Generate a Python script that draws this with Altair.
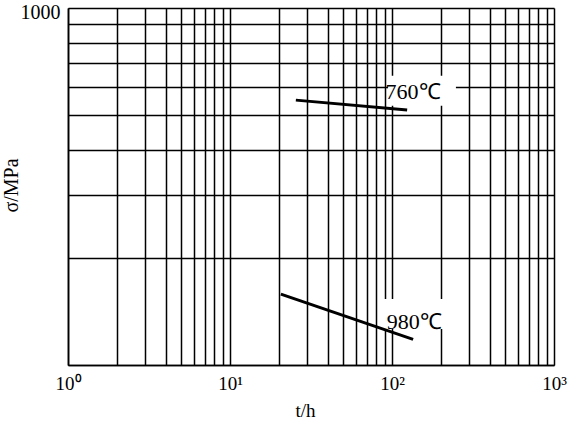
import altair as alt
import pandas as pd

# Data
t760 = [25.5, 124]
s760 = [552, 518]
t980 = [20.6, 135]
s980 = [158, 118]
label_t = [135, 137]
label_s = [582, 132]
label_txt = ["760℃", "980℃"]
box_t = [153, 141]
box_s = [586, 139]

x_grid = [1, 2, 3, 4, 5, 6, 7, 8, 9, 10, 20, 30, 40, 50, 60, 70, 80, 90,
          100, 200, 300, 400, 500, 600, 700, 800, 900, 1000]
y_grid = [100, 200, 300, 400, 500, 600, 700, 800, 900, 1000]

lines = pd.DataFrame({
    "t": t760 + t980,
    "s": s760 + s980,
    "series": ["760", "760", "980", "980"],
})
labels = pd.DataFrame({"t": label_t, "s": label_s, "txt": label_txt,
                       "bt": box_t, "bs": box_s})

FONT = "Liberation Serif"

xscale = alt.Scale(type="log", domain=[1, 1000], nice=False)
yscale = alt.Scale(type="log", domain=[100, 1000], nice=False)

xaxis = alt.Axis(
    values=x_grid, grid=True, ticks=False, gridColor="black", gridWidth=1.5,
    gridOpacity=1, domainColor="black", domainWidth=1.6,
    labelExpr="datum.value==1?'10⁰':datum.value==10?'10¹':datum.value==100?'10²':datum.value==1000?'10³':''",
    labelFont=FONT, labelFontSize=19, labelColor="black", labelPadding=9,
    labelFlush=False, labelOverlap=False,
    title="t/h", titleFont=FONT, titleFontSize=19, titleFontWeight="normal",
    titleColor="black", titleX=237, titleY=45, titleBaseline="middle",
    titleAlign="center",
)
yaxis = alt.Axis(
    values=y_grid, grid=True, ticks=False, gridColor="black", gridWidth=1.5,
    gridOpacity=1, domainColor="black", domainWidth=1.6,
    labelExpr="datum.value==1000?'1000':''",
    labelFont=FONT, labelFontSize=20, labelColor="black", labelPadding=8,
    labelFlush=False, labelOverlap=False, labelBaseline="middle",
    labelOffset=4,
    title="σ/MPa", titleFont=FONT, titleFontSize=20, titleFontWeight="normal",
    titleColor="black", titleX=-57, titleY=177, titleAngle=-90,
    titleBaseline="middle", titleAlign="center",
)

bg = alt.Chart(labels).mark_point(
    shape="M-1,-0.441 L1,-0.441 L1,0.441 L-1,0.441 Z", filled=True,
    fill="white", opacity=1, strokeWidth=0, size=4624,
).encode(x=alt.X("bt:Q", scale=xscale, axis=xaxis),
         y=alt.Y("bs:Q", scale=yscale, axis=yaxis))

base = alt.Chart(lines).mark_line(color="black", strokeWidth=3).encode(
    x=alt.X("t:Q", scale=xscale),
    y=alt.Y("s:Q", scale=yscale),
    detail="series:N",
)

txt = alt.Chart(labels).mark_text(
    font=FONT, fontSize=22, color="black", align="center", baseline="middle",
).encode(x=alt.X("t:Q", scale=xscale), y=alt.Y("s:Q", scale=yscale), text="txt:N")

chart = alt.layer(bg, base, txt).properties(
    width=486, height=357,
    autosize=alt.AutoSizeParams(type="none"),
    padding={"left": 68, "top": 8, "right": 13, "bottom": 61},
).configure_view(stroke="black", strokeWidth=1.6).configure(background="white")

chart.save("out.html", embed_options={"renderer": "svg", "actions": False})
